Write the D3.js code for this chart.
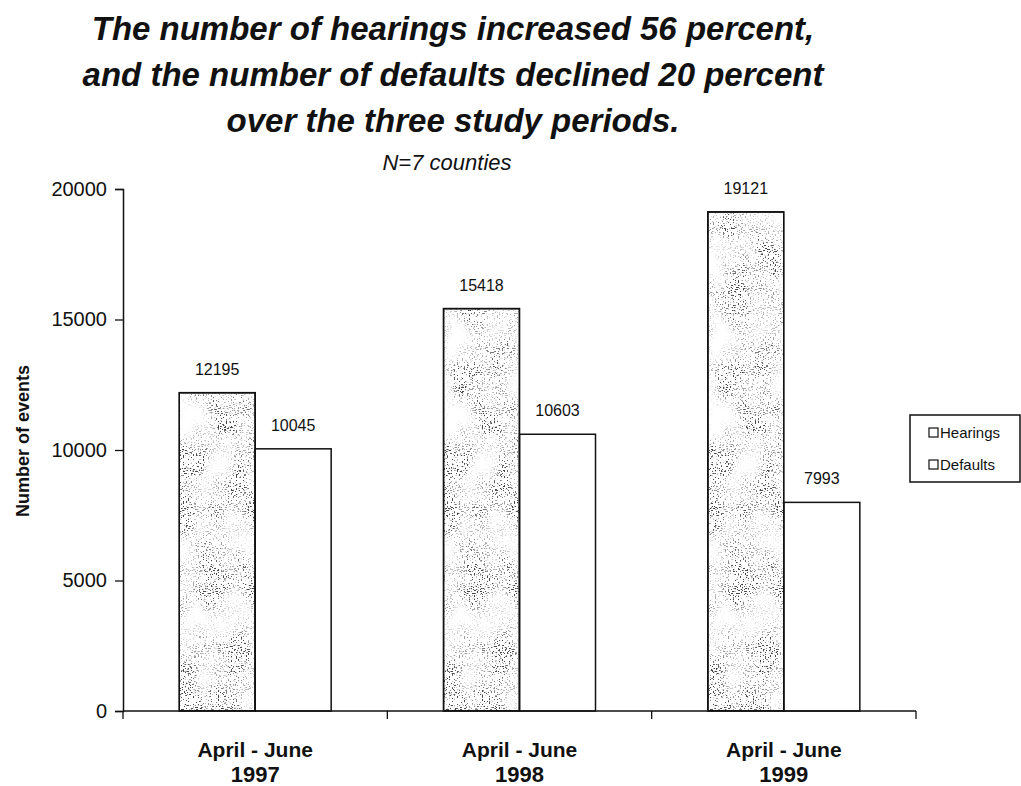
<!DOCTYPE html>
<html>
<head>
<meta charset="utf-8">
<script src="https://cdn.jsdelivr.net/npm/d3@7"></script>
<style>
  html, body { margin: 0; padding: 0; background: #fff; }
  svg { display: block; }
  text { fill: #111; }
</style>
</head>
<body>
<svg id="chart" width="1021" height="786"></svg>
<script>
// Study periods and the two event counts per period
const periods = ["April - June|1997", "April - June|1998", "April - June|1999"];
const series = ["Hearings", "Defaults"];
const hearings = [12195, 15418, 19121];
const defaults = [10045, 10603, 7993];
const yTicks = [0, 5000, 10000, 15000, 20000];

const titleLines = [
  "The number of hearings increased 56 percent,",
  "and the number of defaults declined 20 percent",
  "over the three study periods."
];
const subtitle = "N=7 counties";

const svg = d3.select("#chart");
const W = 1021, H = 786;
const margin = { left: 123, right: 105, top: 189, bottom: 74 };

const sans = "'Liberation Sans', Arial, sans-serif";

// Speckled grey texture for the hearings bars: fine specks, loosely clumped
const defs = svg.append("defs");
const grain = defs.append("filter").attr("id", "grain")
  .attr("x", 0).attr("y", 0).attr("width", 1).attr("height", 1);
grain.append("feTurbulence").attr("type", "fractalNoise")
  .attr("baseFrequency", "0.6 0.95").attr("numOctaves", 1).attr("seed", 3).attr("result", "fine");
grain.append("feColorMatrix").attr("in", "fine").attr("type", "matrix")
  .attr("values", "0 0 0 0 0  0 0 0 0 0  0 0 0 0 0  -14 0 0 0 6.0").attr("result", "specks");
grain.append("feTurbulence").attr("type", "fractalNoise")
  .attr("baseFrequency", "0.04 0.025").attr("numOctaves", 2).attr("seed", 11).attr("result", "coarse");
grain.append("feColorMatrix").attr("in", "coarse").attr("type", "matrix")
  .attr("values", "0 0 0 0 0  0 0 0 0 0  0 0 0 0 0  2.4 0 0 0 -0.55").attr("result", "clumps");
grain.append("feComposite").attr("in", "specks").attr("in2", "clumps").attr("operator", "in").attr("result", "mask");
grain.append("feFlood").attr("flood-color", "#4a4a4a").attr("result", "ink");
grain.append("feComposite").attr("in", "ink").attr("in2", "mask").attr("operator", "in").attr("result", "dots");
grain.append("feMerge").selectAll("feMergeNode")
  .data(["SourceGraphic", "dots"]).join("feMergeNode").attr("in", d => d);

const x0 = d3.scaleBand().domain(periods).range([margin.left, W - margin.right]);
const x1 = d3.scaleBand().domain(series).range([0, x0.bandwidth()]).paddingOuter(0.739);
const y = d3.scaleLinear().domain([0, 20000]).range([H - margin.bottom - 1, margin.top]);

const rows = periods.map((p, i) => ({ period: p, values: [
  { key: "Hearings", value: hearings[i] },
  { key: "Defaults", value: defaults[i] }
]}));

// Titles
svg.append("g").selectAll("text").data(titleLines).join("text")
  .attr("x", 453).attr("y", (d, i) => 40 + i * 46)
  .attr("text-anchor", "middle")
  .style("font-family", sans).style("font-weight", "bold").style("font-style", "italic")
  .style("font-size", "33px")
  .text(d => d);

svg.append("text").attr("x", 447).attr("y", 170).attr("text-anchor", "middle")
  .style("font-family", sans).style("font-style", "italic").style("font-size", "22px")
  .text(subtitle);

// Bars
const groups = svg.append("g").selectAll("g").data(rows).join("g")
  .attr("transform", d => `translate(${x0(d.period)},0)`);

groups.selectAll("rect.bar").data(d => d.values).join("rect")
  .attr("class", "bar")
  .attr("x", d => x1(d.key))
  .attr("y", d => y(d.value))
  .attr("width", x1.bandwidth())
  .attr("height", d => y(0) - y(d.value))
  .attr("fill", "#fff")
  .attr("stroke", "#111").attr("stroke-width", 1.5)
  .attr("filter", d => d.key === "Hearings" ? "url(#grain)" : null);

// Outline over the textured bars (the filter region clips their stroke)
groups.selectAll("rect.edge").data(d => d.values.filter(v => v.key === "Hearings")).join("rect")
  .attr("class", "edge")
  .attr("x", d => x1(d.key))
  .attr("y", d => y(d.value))
  .attr("width", x1.bandwidth())
  .attr("height", d => y(0) - y(d.value))
  .attr("fill", "none").attr("stroke", "#111").attr("stroke-width", 1.6);

// Value labels
groups.selectAll("text.val").data(d => d.values).join("text")
  .attr("class", "val")
  .attr("x", d => x1(d.key) + x1.bandwidth() / 2)
  .attr("y", d => y(d.value) - 18)
  .attr("text-anchor", "middle")
  .style("font-family", sans).style("font-size", "16px")
  .text(d => d.value);

// Y axis
const yAxis = svg.append("g").attr("transform", `translate(${margin.left},0)`)
  .call(d3.axisLeft(y).tickValues(yTicks).tickSize(8).tickPadding(8).tickFormat(d3.format("d")));
yAxis.select(".domain").attr("stroke", "#111").attr("stroke-width", 1.5);
yAxis.selectAll(".tick line").attr("stroke", "#111").attr("stroke-width", 1.3);
yAxis.selectAll(".tick text").style("font-family", sans).style("font-size", "20px").attr("fill", "#111");

svg.append("text")
  .attr("transform", `translate(29,441) rotate(-90)`)
  .attr("text-anchor", "middle")
  .style("font-family", sans).style("font-weight", "bold").style("font-size", "18px")
  .text("Number of events");

// X axis: baseline with ticks at period boundaries
const xAxis = svg.append("g");
xAxis.append("line")
  .attr("x1", x0.range()[0]).attr("x2", x0.range()[1])
  .attr("y1", y(0)).attr("y2", y(0))
  .attr("stroke", "#111").attr("stroke-width", 1.5);
const bounds = periods.map(p => x0(p)).concat([x0.range()[1]]);
xAxis.selectAll("line.tk").data(bounds).join("line").attr("class", "tk")
  .attr("x1", d => d).attr("x2", d => d)
  .attr("y1", y(0)).attr("y2", y(0) + 8)
  .attr("stroke", "#111").attr("stroke-width", 1.3);

const xl = xAxis.selectAll("text.cat").data(periods).join("text").attr("class", "cat")
  .attr("x", d => x0(d) + x0.bandwidth() / 2)
  .attr("text-anchor", "middle")
  .style("font-family", sans).style("font-weight", "bold");
xl.append("tspan").attr("x", d => x0(d) + x0.bandwidth() / 2).attr("y", 757)
  .style("font-size", "21px").text(d => d.split("|")[0]);
xl.append("tspan").attr("x", d => x0(d) + x0.bandwidth() / 2).attr("y", 782)
  .style("font-size", "22px").text(d => d.split("|")[1]);

// Legend
const legend = svg.append("g").attr("transform", "translate(910,415)");
legend.append("rect").attr("width", 110).attr("height", 67)
  .attr("fill", "#fff").attr("stroke", "#111").attr("stroke-width", 1.5);
const li = legend.selectAll("g").data(series).join("g")
  .attr("transform", (d, i) => `translate(19,${13 + i * 32})`);
li.append("rect").attr("width", 9).attr("height", 9)
  .attr("fill", "#fff").attr("stroke", "#111").attr("stroke-width", 1.2);
li.append("text").attr("x", 11).attr("y", 9.5)
  .style("font-family", sans).style("font-size", "15px")
  .text(d => d);
</script>
</body>
</html>
